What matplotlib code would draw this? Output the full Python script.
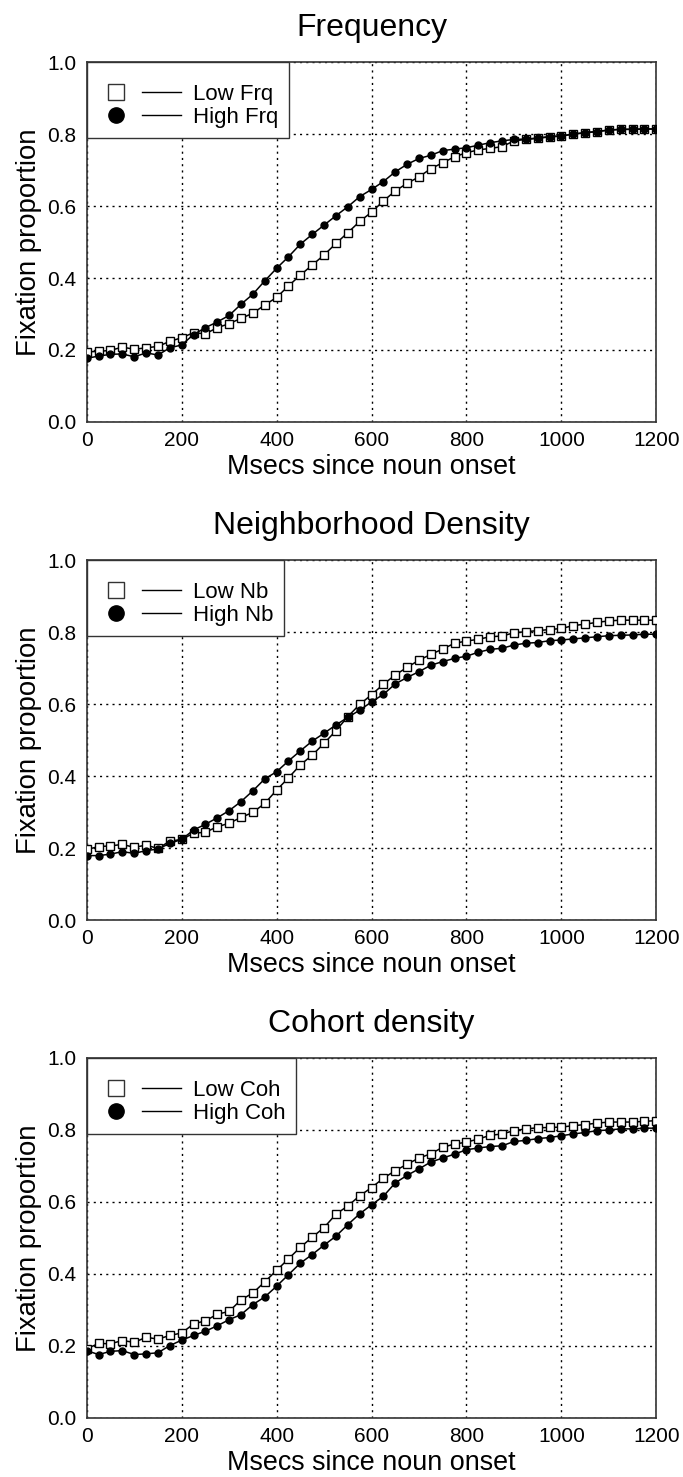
import matplotlib
matplotlib.use("Agg")
import matplotlib.pyplot as plt
from matplotlib.lines import Line2D
from matplotlib.patches import Rectangle
from matplotlib.legend_handler import HandlerTuple
import numpy as np

plt.rcParams["font.family"] = ["Liberation Sans", "DejaVu Sans"]

# time bins (ms after noun onset), one sample every 25 ms
msecs = np.arange(0, 1201, 25)

# Frequency
low_frq = [0.195, 0.196, 0.199, 0.208, 0.202, 0.206, 0.210, 0.224, 0.234, 0.248,
           0.245, 0.262, 0.273, 0.288, 0.302, 0.325, 0.346, 0.378, 0.408, 0.436,
           0.464, 0.496, 0.526, 0.557, 0.583, 0.614, 0.642, 0.663, 0.681, 0.704,
           0.720, 0.737, 0.748, 0.756, 0.760, 0.765, 0.781, 0.785, 0.788, 0.792,
           0.794, 0.800, 0.803, 0.807, 0.811, 0.813, 0.813, 0.814, 0.814]
high_frq = [0.177, 0.183, 0.188, 0.189, 0.181, 0.192, 0.186, 0.206, 0.214, 0.243,
            0.262, 0.278, 0.296, 0.327, 0.355, 0.392, 0.427, 0.459, 0.494, 0.521,
            0.547, 0.573, 0.598, 0.626, 0.646, 0.668, 0.695, 0.716, 0.732, 0.741,
            0.754, 0.758, 0.762, 0.769, 0.776, 0.781, 0.785, 0.786, 0.789, 0.793,
            0.795, 0.800, 0.804, 0.807, 0.811, 0.813, 0.813, 0.814, 0.814]

# Neighborhood density
low_nb = [0.196, 0.204, 0.206, 0.210, 0.202, 0.208, 0.199, 0.219, 0.224, 0.241,
          0.244, 0.259, 0.269, 0.285, 0.299, 0.324, 0.361, 0.395, 0.431, 0.458,
          0.491, 0.526, 0.565, 0.599, 0.626, 0.655, 0.681, 0.702, 0.722, 0.738,
          0.753, 0.769, 0.775, 0.780, 0.787, 0.789, 0.798, 0.801, 0.804, 0.807,
          0.810, 0.818, 0.822, 0.827, 0.831, 0.833, 0.833, 0.833, 0.833]
high_nb = [0.179, 0.179, 0.183, 0.190, 0.185, 0.193, 0.197, 0.213, 0.224, 0.250,
           0.266, 0.284, 0.304, 0.329, 0.359, 0.392, 0.412, 0.442, 0.470, 0.497,
           0.519, 0.542, 0.563, 0.583, 0.606, 0.627, 0.656, 0.674, 0.690, 0.708,
           0.718, 0.727, 0.733, 0.744, 0.752, 0.755, 0.764, 0.769, 0.771, 0.776,
           0.778, 0.781, 0.784, 0.787, 0.790, 0.791, 0.792, 0.794, 0.794]

# Cohort density
low_coh = [0.192, 0.207, 0.206, 0.215, 0.210, 0.224, 0.219, 0.229, 0.236, 0.261,
           0.270, 0.288, 0.296, 0.328, 0.347, 0.378, 0.410, 0.442, 0.474, 0.502,
           0.529, 0.566, 0.589, 0.617, 0.640, 0.666, 0.687, 0.705, 0.722, 0.734,
           0.752, 0.761, 0.766, 0.775, 0.785, 0.789, 0.798, 0.803, 0.806, 0.807,
           0.808, 0.812, 0.815, 0.819, 0.822, 0.822, 0.822, 0.824, 0.826]
high_coh = [0.187, 0.176, 0.185, 0.187, 0.176, 0.178, 0.181, 0.201, 0.216, 0.229,
            0.241, 0.256, 0.273, 0.287, 0.315, 0.336, 0.366, 0.398, 0.430, 0.454,
            0.480, 0.505, 0.537, 0.567, 0.592, 0.616, 0.653, 0.674, 0.692, 0.711,
            0.722, 0.733, 0.745, 0.750, 0.754, 0.756, 0.768, 0.771, 0.776, 0.779,
            0.784, 0.789, 0.793, 0.798, 0.800, 0.803, 0.803, 0.805, 0.805]

panels = [
    ("Frequency", "Low Frq", "High Frq", low_frq, high_frq),
    ("Neighborhood Density", "Low Nb", "High Nb", low_nb, high_nb),
    ("Cohort density", "Low Coh", "High Coh", low_coh, high_coh),
]

fig = plt.figure(figsize=(6.83, 14.77), dpi=100)

# axes boxes in figure fractions (left, bottom, width, height)
boxes = [
    (0.127, 0.7143, 0.834, 0.2437),
    (0.127, 0.3771, 0.834, 0.2437),
    (0.127, 0.0400, 0.834, 0.2437),
]

legends = []
for box, (title, low_lab, high_lab, low_vals, high_vals) in zip(boxes, panels):
    ax = fig.add_axes(box)

    ax.plot(msecs, low_vals, color="black", lw=1.1, marker="s", ms=5.9,
            mfc="white", mec="black", mew=1.0, zorder=3)
    ax.plot(msecs, high_vals, color="black", lw=1.1, marker="o", ms=5.0,
            mfc="black", mec="black", zorder=4)

    ax.set_xlim(0, 1200)
    ax.set_ylim(0, 1.0)
    ax.set_xticks(np.arange(0, 1201, 200))
    ax.set_yticks(np.arange(0, 1.01, 0.2))
    ax.set_yticklabels([f"{v:.1f}" for v in np.arange(0, 1.01, 0.2)])
    ax.tick_params(length=0, labelsize=15)
    ax.tick_params(axis="x", pad=6.5)
    ax.tick_params(axis="y", pad=7.5)

    ax.grid(True, color="black", lw=1.0, linestyle=(0, (1.5, 3)))
    for sp in ax.spines.values():
        sp.set_color("#333333")
        sp.set_linewidth(1.2)

    ax.set_title(title, fontsize=23, pad=19)
    ax.set_xlabel("Msecs since noun onset", fontsize=19.4, labelpad=3)
    ax.set_ylabel("Fixation proportion", fontsize=19.8, labelpad=4)

    # legend entries: marker, then a separate line segment, then the label
    mk_low = Line2D([], [], ls="none", marker="s", ms=11, mfc="white",
                    mec="#333333", mew=1.0)
    mk_high = Line2D([], [], ls="none", marker="o", ms=11, mfc="black",
                     mec="black")
    seg = Line2D([], [], color="black", lw=1.0)
    leg = ax.legend([(mk_low, seg), (mk_high, seg)], [low_lab, high_lab],
                    handler_map={tuple: HandlerTuple(ndivide=None, pad=0.3)},
                    loc="upper left", bbox_to_anchor=(0, 0.9675),
                    borderaxespad=0, fontsize=16, handlelength=3.8,
                    handletextpad=0.55, borderpad=0.45, labelspacing=0.1,
                    frameon=False)
    leg.set_zorder(6)
    legends.append((ax, leg))

# white boxes behind the legends, running up to the top spine
fig.canvas.draw()
for ax, leg in legends:
    bb = leg.get_window_extent().transformed(ax.transAxes.inverted())
    ax.add_patch(Rectangle((0, bb.y0), bb.x1, 1 - bb.y0, transform=ax.transAxes,
                           facecolor="white", edgecolor="#333333", lw=1.0,
                           zorder=5, clip_on=False))

fig.savefig("out.png", dpi=100)
